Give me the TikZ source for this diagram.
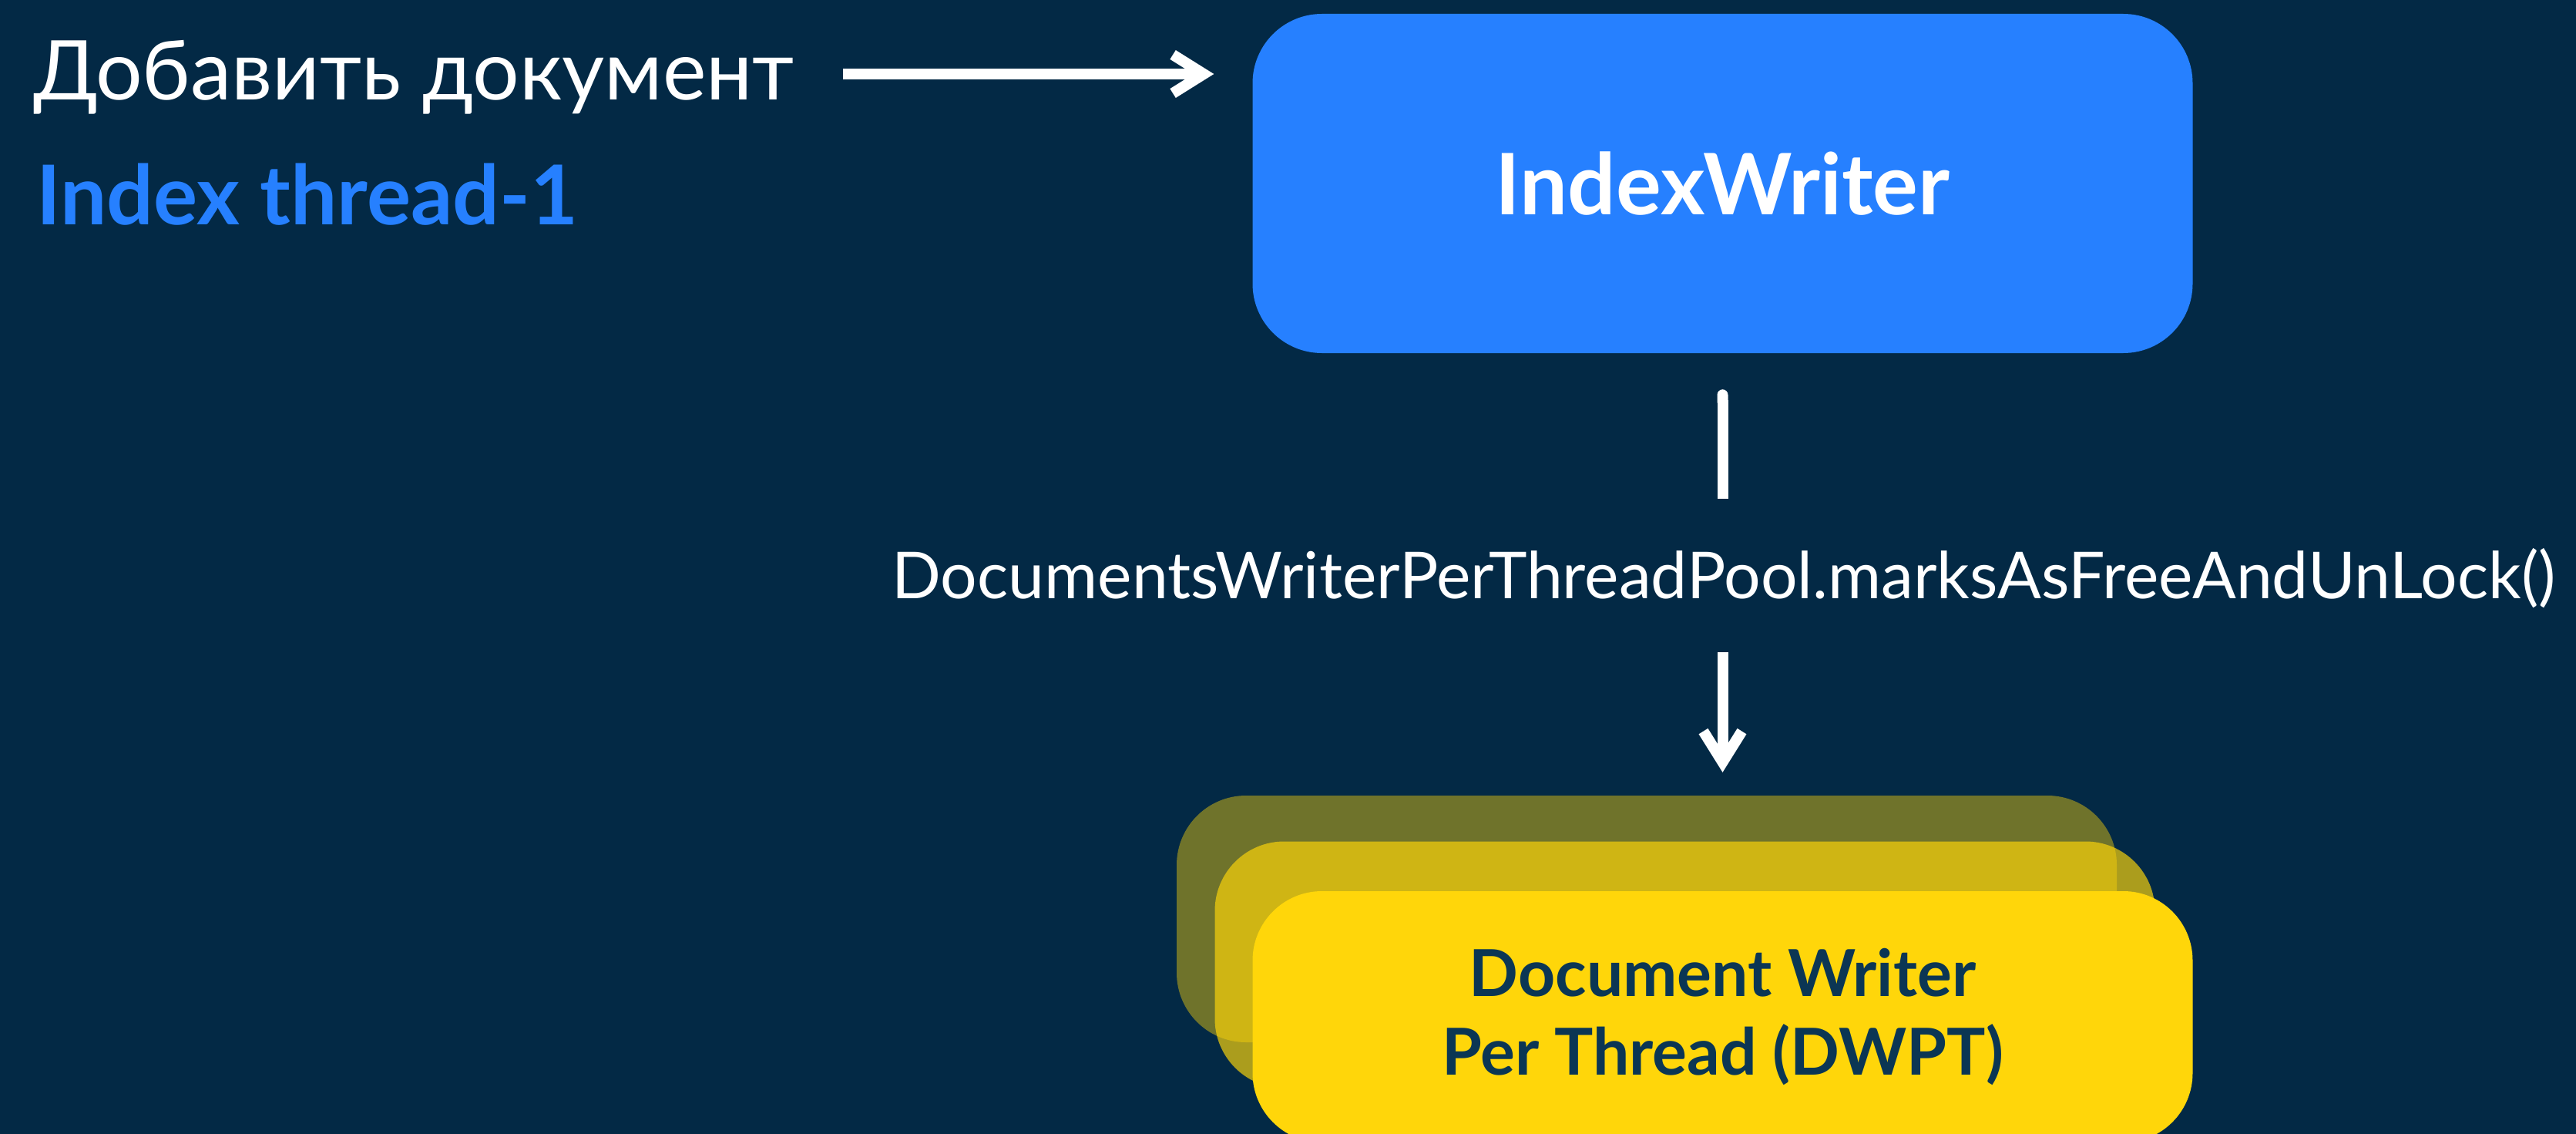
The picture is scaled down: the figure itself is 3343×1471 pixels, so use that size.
\documentclass[tikz,border=0pt]{standalone}
\usepackage{fontspec}
\setmainfont{Lato}
\usetikzlibrary{arrows.meta}
\definecolor{bg}{HTML}{032945}
\definecolor{iwblue}{HTML}{2680FF}
\definecolor{dwyellow}{HTML}{FFD60A}
\definecolor{dwtext}{HTML}{0B3654}
\begin{document}
\begin{tikzpicture}[x=1pt,y=-1pt,
  box/.style={draw=none, rounded corners=90pt, inner sep=0pt, minimum width=1220pt},
  conn/.style={draw=white, line width=14pt},
  tip/.style={-{Straight Barb[length=40pt,width=50pt]}},
  plain/.style={inner sep=0pt, anchor=base west}
]
% canvas
\useasboundingbox (0,0) rectangle (3343,1471);
\clip (0,0) rectangle (3343,1471);
\fill[bg] (0,0) rectangle (3343,1471);

% left-hand captions
\node[plain, text=white, font=\fontsize{107}{120}\selectfont] (add) at (43,130) {Добавить документ};
\node[plain, text=iwblue, font=\fontsize{107}{120}\selectfont\bfseries] (thr) at (47,292) {Index thread-1};

% IndexWriter
\node[box, fill=iwblue, minimum height=440pt, text=white,
      font=\fontsize{110}{120}\selectfont\bfseries] (iw) at (2235.5,238) {IndexWriter};

% stack of per-thread writers (back to front)
\node[box, fill=dwyellow, fill opacity=0.43, minimum height=320pt] (dw3) at (2137,1192) {};
\node[box, fill=dwyellow, fill opacity=0.67, minimum height=320pt] (dw2) at (2186.5,1251.5) {};
\node[box, fill=dwyellow, minimum height=326pt, text=dwtext, align=center,
      font=\fontsize{84}{102}\selectfont\bfseries] (dw1) at (2235.5,1319) {Document Writer\\Per Thread (DWPT)};

% method call label
\node[inner sep=0pt, anchor=base, text height=64pt, text depth=16pt, text=white,
      font=\fontsize{84}{100}\selectfont] (lbl) at (2237,776) {DocumentsWriterPerThreadPool.marksAsFreeAndUnLock()};

% connectors
\coordinate (a1) at ([xshift=63pt,yshift=34pt]add.base east);
\draw[conn, tip, shorten >=50pt] (a1) -- (iw.west |- a1);
\draw[conn, {Round Cap[]}-, shorten <=47pt, shorten >=65pt] (iw.south) -- (iw.south |- lbl.north);
\draw[conn, tip, shorten <=54pt, shorten >=30pt] (iw.south |- lbl.south) -- (iw.south |- dw3.north);
\end{tikzpicture}
\end{document}
